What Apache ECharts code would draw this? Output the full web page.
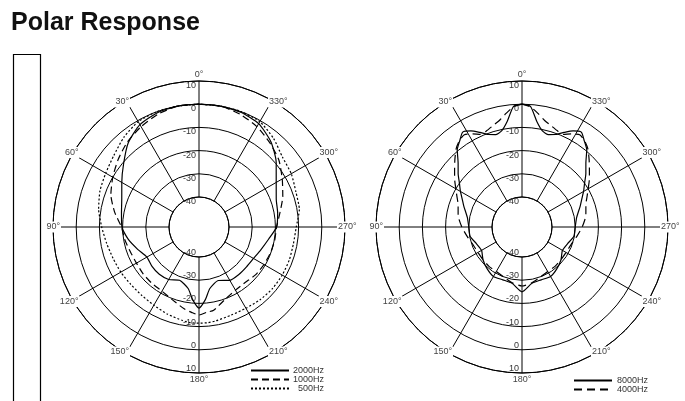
<!DOCTYPE html>
<html>
<head>
<meta charset="utf-8">
<script src="https://cdn.jsdelivr.net/npm/echarts@6.0.0/dist/echarts.min.js"></script>
<style>
  html, body { margin: 0; padding: 0; background: #fff; }
  #chart { width: 685px; height: 401px; }
</style>
</head>
<body>
<div id="chart"></div>
<script>
// left chart: angle (deg, 0 at top, counter-clockwise) and level in dB
var leftAngles = [0,10,20,30,40,50,60,70,80,90,100,110,120,130,140,150,160,170,175,180,185,190,200,210,220,230,240,250,260,270,280,290,300,310,320,330,340,350,360];
var hz2000 = [0,0,-0.5,-2,-5.5,-10.5,-14.5,-17.5,-19,-19.7,-22,-24.8,-27,-26.5,-26.3,-26.8,-28.5,-26,-21.5,-18,-21.5,-26,-28.4,-26.4,-26.2,-26.2,-25.8,-24.5,-22.5,-19.5,-18.5,-17.5,-14.5,-9.5,-4.8,-1.5,-0.3,0,0];
var hz1000 = [0,0,-1.2,-3,-5,-7.5,-10,-12.5,-16,-19.5,-20.5,-21.5,-21.8,-21.5,-21.3,-21,-19.5,-17,-16,-15,-16,-16.5,-19.8,-21.5,-21.8,-21,-20.6,-20.2,-19.8,-19.5,-17.5,-14.5,-11.5,-8,-5.5,-3,-1.2,0,0];
var hz500 = [0,0,0,-0.5,-2.5,-5,-6.5,-7.5,-9,-11,-12.5,-13.5,-14,-14.5,-14.5,-14,-13,-12,-11.5,-11.5,-11.5,-11.8,-12.5,-12.5,-12,-11.6,-11.5,-11.5,-11.6,-11,-9,-8.5,-7,-6,-3,-0.5,0,0,0];

// right chart
var rightAngles = [0,4,8,12,16,20,24,28,32,36,40,45,50,55,60,65,70,80,90,100,110,120,130,140,150,160,170,180,190,200,210,220,230,240,250,260,270,280,290,295,300,305,310,315,320,324,328,332,336,340,344,348,352,356,360];
var hz8000 = [0,-0.8,-7,-10.6,-11.5,-10.5,-8.3,-6,-4.7,-7.2,-9.5,-14,-17,-20,-22.3,-24.5,-26.2,-29,-30,-30.2,-32,-32.8,-31,-29.5,-28.3,-28.7,-28.3,-25,-28.3,-28.7,-28.3,-29.5,-31,-32.8,-32,-30.2,-30,-29,-26.2,-24.5,-22.3,-20,-17,-14,-9.5,-7.2,-4.7,-6,-8.3,-10.5,-11.5,-10.6,-7,-0.8,0];
var hz4000 = [0,-1,-3.5,-6,-7.5,-8.7,-9.2,-7.5,-6,-7,-8.8,-12,-15,-17.5,-20,-22,-23.6,-25,-27,-29,-30.5,-31,-31,-30.8,-30.8,-30,-28.5,-27.5,-28.5,-30,-30.8,-30.8,-31,-31,-30.5,-29,-27,-25,-23.6,-22,-20,-17.5,-15,-12,-8.8,-7,-6,-7.5,-9.2,-8.7,-7.5,-6,-3.5,-1,0];

var ringTicks = { min: -40, max: 10, interval: 10 };
var centers = [[199, 227], [522, 227]];

function pairs(vals, angles) {
  var out = [];
  for (var i = 0; i < vals.length; i++) out.push([vals[i], angles[i]]);
  return out;
}

function degLabel(v) {
  if (v === 360) return '';
  if (v === 0) return '{t|0°}';
  if (v === 180) return '{b|180°}';
  return '{n|' + v + '°}';
}

var polar = [], angleAxis = [], radiusAxis = [];
centers.forEach(function (c) {
  var base = polar.length;
  // main grid
  polar.push({ center: c, radius: [30, 146] });
  angleAxis.push({
    polarIndex: base, type: 'value', min: 0, max: 360, interval: 30,
    startAngle: 90, clockwise: false,
    axisLine: { lineStyle: { color: '#000', width: 1 } },
    axisTick: { show: false }, axisLabel: { show: false },
    splitLine: { lineStyle: { color: '#000', width: 1 } }
  });
  radiusAxis.push({
    polarIndex: base, type: 'value', min: ringTicks.min, max: ringTicks.max, interval: ringTicks.interval,
    axisLine: { show: false }, axisTick: { show: false },
    splitLine: { lineStyle: { color: '#000', width: 1 } },
    axisLabel: { fontSize: 9, color: '#333', margin: 3, verticalAlign: 'top', showMinLabel: true, showMaxLabel: true }
  });
  // dB labels on the lower half
  polar.push({ center: c, radius: [30, 146] });
  angleAxis.push({ polarIndex: base + 1, type: 'value', min: 0, max: 360, startAngle: 270, show: false });
  radiusAxis.push({
    polarIndex: base + 1, type: 'value', min: ringTicks.min, max: ringTicks.max, interval: ringTicks.interval,
    axisLine: { show: false }, axisTick: { show: false }, splitLine: { show: false },
    axisLabel: { fontSize: 9, color: '#333', margin: -3, align: 'right', verticalAlign: 'bottom', showMinLabel: true, showMaxLabel: true }
  });
  // degree labels sitting on the outer ring
  polar.push({ center: c, radius: [30, 146] });
  angleAxis.push({
    polarIndex: base + 2, type: 'value', min: 0, max: 360, interval: 30,
    startAngle: 90, clockwise: false, z: 10,
    axisLine: { show: false }, axisTick: { show: false }, splitLine: { show: false },
    axisLabel: {
      margin: -8, fontSize: 9, color: '#444',
      formatter: degLabel,
      rich: {
        n: { fontSize: 9, color: '#444', backgroundColor: '#fff', padding: [1, 1] },
        t: { fontSize: 9, color: '#444', padding: [0, 0, 10, 0] },
        b: { fontSize: 9, color: '#444', padding: [10, 0, 0, 0] }
      }
    }
  });
  radiusAxis.push({ polarIndex: base + 2, type: 'value', min: ringTicks.min, max: ringTicks.max, show: false });
});

function curve(name, vals, angles, pIdx, dash) {
  return {
    name: name, type: 'line', coordinateSystem: 'polar', polarIndex: pIdx,
    data: pairs(vals, angles), symbol: 'none', smooth: 0.2,
    itemStyle: { color: '#000' },
    lineStyle: { color: '#000', width: 1.2, type: dash }
  };
}

var myChart = echarts.init(document.getElementById('chart'));
var option = {
  animation: false,
  title: {
    text: 'Polar Response', left: 11, top: 11, padding: 0,
    textStyle: { fontSize: 25, fontWeight: 'bold', color: '#111', fontFamily: 'Liberation Sans, Arial, sans-serif' }
  },
  graphic: [{
    type: 'rect', left: 11, top: 52, shape: { width: 27, height: 360 },
    style: { fill: 'none', stroke: '#000', lineWidth: 1.2 }
  }],
  legend: [{
    data: ['2000Hz', '1000Hz', '500Hz'], orient: 'vertical', left: 250, top: 366, padding: 0,
    itemWidth: 38, itemHeight: 10, itemGap: 0,
    itemStyle: { opacity: 0 },
    formatter: '{a|{name}}',
    textStyle: { fontSize: 9, color: '#333', rich: { a: { width: 30, align: 'right', fontSize: 9, color: '#333' } } }
  }, {
    data: ['8000Hz', '4000Hz'], orient: 'vertical', left: 573, top: 376, padding: 0,
    itemWidth: 38, itemHeight: 10, itemGap: 0,
    itemStyle: { opacity: 0 },
    textStyle: { fontSize: 9, color: '#333' }
  }],
  polar: polar,
  angleAxis: angleAxis,
  radiusAxis: radiusAxis,
  series: [
    curve('2000Hz', hz2000, leftAngles, 0, 'solid'),
    curve('1000Hz', hz1000, leftAngles, 0, [7, 4]),
    curve('500Hz', hz500, leftAngles, 0, [2, 2]),
    curve('8000Hz', hz8000, rightAngles, 3, 'solid'),
    curve('4000Hz', hz4000, rightAngles, 3, [8, 5])
  ]
};
myChart.setOption(option);
</script>
</body>
</html>
